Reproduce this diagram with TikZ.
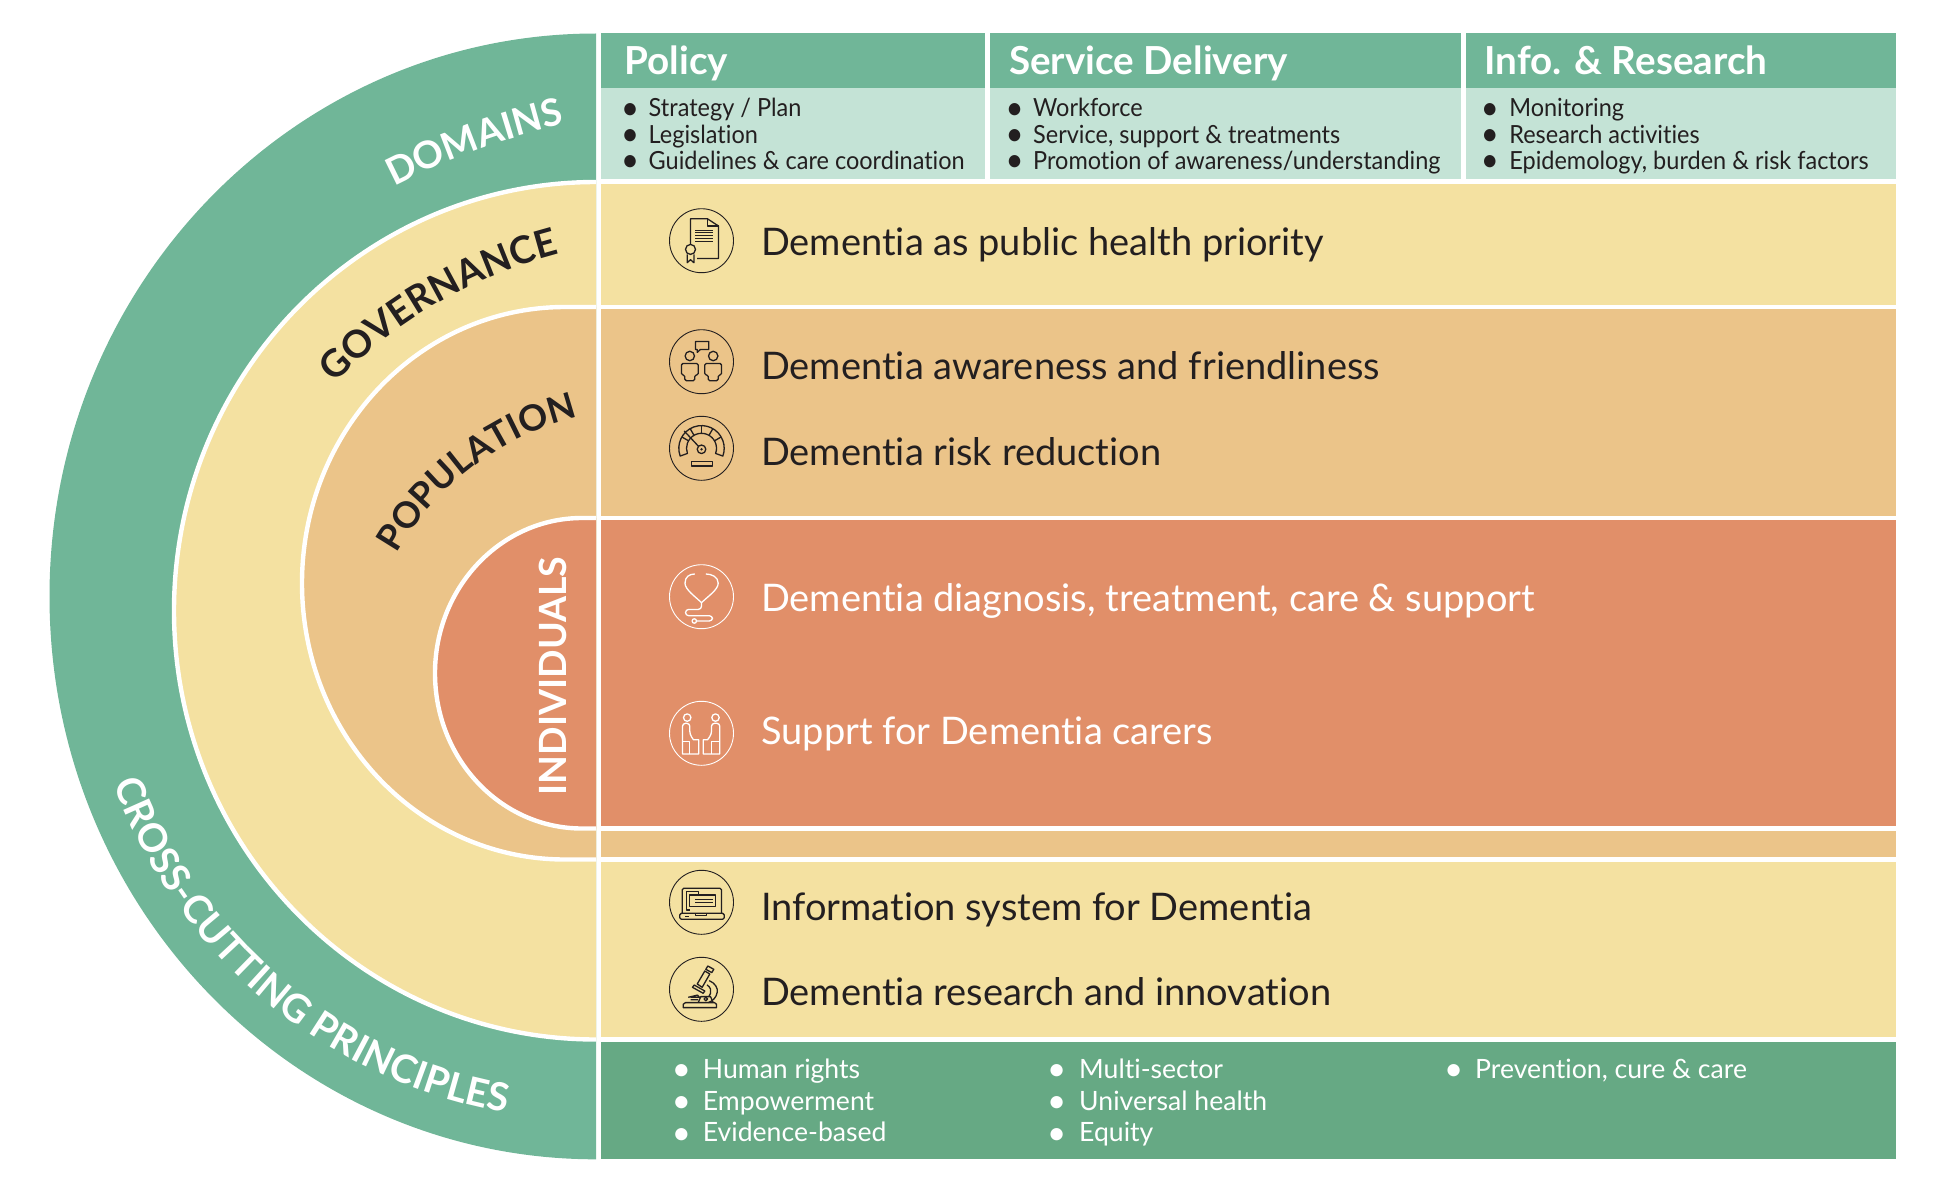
\documentclass[tikz,border=0pt]{standalone}
\usepackage{fontspec}
\usetikzlibrary{decorations.text}
\defaultfontfeatures{Ligatures=NoCommon}
\setmainfont{Lato}
\newfontfamily\bulletfont[FakeStretch=0.94]{Lato}
\newfontfamily\lowerfont{Lato}
\newfontfamily\bodyfont{Lato}
\definecolor{gmid}{HTML}{70B698}
\definecolor{glight}{HTML}{C4E3D6}
\definecolor{gdark}{HTML}{66A984}
\definecolor{yel}{HTML}{F4E1A1}
\definecolor{org}{HTML}{EBC489}
\definecolor{red1}{HTML}{E18F69}
\definecolor{ink}{HTML}{231F20}
\newcommand{\capwhite}{\fontsize{37.8}{40}\selectfont\bfseries\color{white}}
\newcommand{\capcross}{\fontsize{39}{40}\selectfont\bfseries\color{white}}
\newcommand{\capgov}{\fontsize{38}{40}\selectfont\bfseries\color{ink}}
\newcommand{\cappop}{\fontsize{36}{40}\selectfont\bfseries\color{ink}}
\newcommand{\bul}[2]{\makebox[#1pt][l]{\raisebox{-2.5pt}{\fontsize{33}{33}\selectfont\textbullet}}#2}
\tikzset{
  band/.style={draw=white,line width=4.4pt},
  headtxt/.style={anchor=base west,inner sep=0pt,text=white,font=\fontsize{38.6}{42}\selectfont\bfseries},
  bulltxt/.style={anchor=base west,inner sep=0pt,text=ink,font=\bulletfont\fontsize{25}{26}\selectfont},
  lowtxt/.style={anchor=base west,inner sep=0pt,text=white,font=\lowerfont\fontsize{26.6}{28}\selectfont},
  bodytxt/.style={anchor=base west,inner sep=0pt,font=\bodyfont\fontsize{38}{42}\selectfont,text=#1},
  ring/.style={circle,draw=#1,line width=.9pt,minimum size=64pt,inner sep=0pt},
  ico/.style={draw=#1,line width=1.3pt,line join=round},
  curved/.style={decorate,decoration={text along path,text align=center,text={#1}}}
}
\begin{document}
\begin{tikzpicture}[x=1pt,y=1pt]
\useasboundingbox (0,0) rectangle (1953,-1180);
% arcs
\fill[gmid] (596,-33.5) arc[start angle=90,end angle=270,x radius=546.5pt,y radius=562.9pt] -- cycle;
\path[fill=yel,band] (596,-182) arc[start angle=90,end angle=270,x radius=422pt,y radius=428.75pt];
\path[fill=org,band] (596,-307) -- (565,-307) arc[start angle=90,end angle=270,x radius=263pt,y radius=276.25pt] -- (596,-859.5);
\path[fill=red1,band] (596,-518) -- (582,-518) arc[start angle=90,end angle=270,x radius=147pt,y radius=155.25pt] -- (596,-828.5);
% right side panels
\fill[gmid] (601,-33.5) rectangle (984.5,-88);
\fill[gmid] (989.5,-33.5) rectangle (1460.5,-88);
\fill[gmid] (1465.5,-33.5) rectangle (1895.5,-88);
\fill[glight] (601,-88) rectangle (984.5,-179.3);
\fill[glight] (989.5,-88) rectangle (1460.5,-179.3);
\fill[glight] (1465.5,-88) rectangle (1895.5,-179.3);
\fill[yel] (601,-184) rectangle (1895.5,-305);
\fill[org] (601,-309.3) rectangle (1895.5,-515.7);
\fill[red1] (601,-520) rectangle (1895.5,-826);
\fill[org] (601,-831) rectangle (1895.5,-857.3);
\fill[yel] (601,-861.7) rectangle (1895.5,-1037.3);
\fill[gdark] (601,-1041.7) rectangle (1895.5,-1159.3);
\fill[white] (596.7,-30) rectangle (601,-1162);
% curved labels
\path[curved={|\capwhite|DOMAINS}] ([shift={(125:709pt)}]720,-816) arc[start angle=125,end angle=95,radius=709pt];
\path[curved={|\capgov|GOVERNANCE}] ([shift={(150:486pt)}]681,-724) arc[start angle=150,end angle=90,radius=486pt];
\path[curved={|\cappop|POPULATION}] ([shift={(157:287pt)}]646,-696) arc[start angle=157,end angle=97,radius=287pt];
\path[curved={|\capcross|CROSS-CUTTING PRINCIPLES}] ([shift={(190:508pt)}]592,-612) arc[start angle=190,end angle=270,radius=508pt];
\node[anchor=base,rotate=90,inner sep=0pt,text=white,font=\fontsize{37.5}{40}\selectfont\bfseries] (lblind) at (566,-676) {INDIVIDUALS};
% headers
\node[headtxt] (h1) at (624.5,-74.5) {Policy};
\node[headtxt] (h2) at (1009,-74.5) {Service Delivery};
\node[headtxt] (h3) at (1484.5,-74.5) {Info. \& Research};
% bullet lists
\node[bulltxt] (a1) at (621,-117) {\bul{27.5}{Strategy / Plan}};
\node[bulltxt] (a2) at (621,-143) {\bul{27.5}{Legislation}};
\node[bulltxt] (a3) at (621,-169) {\bul{27.5}{Guidelines \& care coordination}};
\node[bulltxt] (b1) at (1005.5,-117) {\bul{27.5}{Workforce}};
\node[bulltxt] (b2) at (1005.5,-143) {\bul{27.5}{Service, support \& treatments}};
\node[bulltxt] (b3) at (1005.5,-169) {\bul{27.5}{Promotion of awareness/understanding}};
\node[bulltxt] (c1) at (1480.6,-117) {\bul{28.5}{Monitoring}};
\node[bulltxt] (c2) at (1480.6,-143) {\bul{28.5}{Research activities}};
\node[bulltxt] (c3) at (1480.6,-169) {\bul{28.5}{Epidemology, burden \& risk factors}};
% body lines
\node[bodytxt=ink] (t1) at (761,-255) {Dementia as public health priority};
\node[bodytxt=ink] (t2) at (761,-379) {Dementia awareness and friendliness};
\node[bodytxt=ink] (t3) at (761,-465) {Dementia risk reduction};
\node[bodytxt=white] (t4) at (761,-611) {Dementia diagnosis, treatment, care \& support};
\node[bodytxt=white] (t5) at (761,-744) {Supprt for Dementia carers};
\node[bodytxt=ink] (t6) at (761,-920) {Information system for Dementia};
\node[bodytxt=ink] (t7) at (761,-1005.5) {Dementia research and innovation};
% lower bullets
\node[lowtxt] (l1) at (671.7,-1078) {\bul{31}{Human rights}};
\node[lowtxt] (l2) at (671.7,-1110) {\bul{31}{Empowerment}};
\node[lowtxt] (l3) at (671.7,-1141.5) {\bul{31}{Evidence-based}};
\node[lowtxt] (l4) at (1047,-1078) {\bul{32}{Multi-sector}};
\node[lowtxt] (l5) at (1047,-1110) {\bul{32}{Universal health}};
\node[lowtxt] (l6) at (1047,-1141.5) {\bul{32}{Equity}};
\node[lowtxt] (l7) at (1444,-1078) {\bul{31}{Prevention, cure \& care}};
% icon rings
\node[ring=ink] (r1) at (701.5,-240.7) {};
\node[ring=ink] (r2) at (701.5,-361.7) {};
\node[ring=ink] (r3) at (701.5,-448.3) {};
\node[ring=white] (r4) at (701.5,-596.7) {};
\node[ring=white] (r5) at (701.5,-733.3) {};
\node[ring=ink] (r6) at (701.5,-902.3) {};
\node[ring=ink] (r7) at (701.5,-989.3) {};
% document
\begin{scope}[shift={(r1.center)},ico=ink]
\draw (-11,-3.3) -- (-11,22) -- (5.8,22) -- (17,14.7) -- (17,-17.7) -- (-4.5,-17.7);
\draw (5.8,22) -- (5.8,14.7) -- (17,14.7);
\foreach \yy in {10.7,7.8,4.9,2,-1}{\draw[line width=1pt] (-6.3,\yy) -- (11.6,\yy);}
\draw (-11,-8.7) circle[radius=5pt];
\draw (-14.3,-13.7) -- (-14.3,-22) -- (-11,-19) -- (-7.6,-22) -- (-7.6,-13.7);
\end{scope}
% people
\begin{scope}[shift={(r2.center)},ico=ink]
\foreach \s in {-1,1}{
\draw (\s*11.7,5.7) circle[radius=4.7pt];
\draw[rounded corners=1.5pt] (\s*3.3,-13.3) -- (\s*3.3,-1.7) -- (\s*20,-1.7) -- (\s*20,-13.3) -- (\s*16.7,-13.3) -- (\s*16.7,-19) -- (\s*6.7,-19) -- (\s*6.7,-13.3) -- cycle;
}
\draw (-6,12.3) -- (-6,20.3) -- (7.3,20.3) -- (7.3,12.3) -- (-1,12.3) -- (-4.3,9.3) -- (-4.3,12.3) -- cycle;
\end{scope}
% gauge
\begin{scope}[shift={(r3.center)},ico=ink]
\draw (200:22.7pt) arc[start angle=200,end angle=-20,radius=22.7pt] -- (-20:15pt) arc[start angle=-20,end angle=200,radius=15pt] -- cycle;
\foreach \a in {30,60,90,120,150}{\draw (\a:15pt) -- (\a:22.7pt);}
\draw (0,-1) circle[radius=4.3pt];
\fill[ink] (0,-1) circle[radius=1.3pt];
\draw (-3,2) -- (-17.3,17.3);
\draw (-10,-13) rectangle (10.7,-17.7);
\end{scope}
% stethoscope
\begin{scope}[shift={(r4.center)},ico=white]
\draw (-6.7,22.7) .. controls (-12,22.7) and (-16.5,20) .. (-16.5,13.5) .. controls (-16.5,7) and (-6,0) .. (0,-6) .. controls (6,0) and (16.7,7) .. (16.7,13.5) .. controls (16.7,20) and (10,22.7) .. (4.3,22.7);
\draw[rounded corners=3.2pt] (0,-6) -- (0,-12.7) -- (-16,-12.7) -- (-16,-19) -- (11,-19) -- (11,-24.3) -- (-5,-24.3);
\draw (-7.2,-24.3) circle[radius=2.2pt];
\end{scope}
% carers
\begin{scope}[shift={(r5.center)},ico=white]
\draw (-14.3,15.7) circle[radius=3.7pt];
\draw (14,15.7) circle[radius=3.7pt];
\draw (-19,-20.7) [rounded corners=3pt] -- (-19,10) -- (-11.7,10) -- (-11.7,-1) [sharp corners] -- (-8,-6.5) -- (-2.7,-6.5) -- (-2.7,-20.7) -- cycle;
\draw (-19,-8.3) -- (-11.7,-8.3) -- (-11.7,-20.7);
\draw (18.3,-20.7) [rounded corners=3pt] -- (18.3,10) -- (10,10) -- (10,-1) [sharp corners] -- (6,-6.5) -- (1.7,-6.5) -- (1.7,-20.7) -- cycle;
\draw (18.3,-8.3) -- (10,-8.3) -- (10,-20.7);
\end{scope}
% laptop
\begin{scope}[shift={(r6.center)},ico=ink]
\draw[rounded corners=1.5pt] (-19.3,-11) -- (-19.3,14) -- (20,14) -- (20,-11);
\draw[rounded corners=1.5pt] (-21.7,-11) rectangle (22.7,-17);
\draw (-6,-11) -- (-6,-13.5) -- (5,-13.5) -- (5,-11);
\draw (-16.5,-14.5) -- (-13,-14.5);
\draw (-3,7.3) -- (-3,10.7) -- (-15,10.7) -- (-15,-7.7) -- (-11.7,-7.7);
\draw (-11.7,-4.3) rectangle (14.3,7.3);
\draw[line width=1pt] (-6.5,3) -- (11,3) (-6.5,0) -- (11,0);
\end{scope}
% microscope
\begin{scope}[shift={(r7.center)},ico=ink]
\draw (-18.3,-18.3) -- (15,-18.3) -- (15,-15) -- (13,-13.3) -- (-16,-13.3) -- (-18.3,-15) -- cycle;
\draw (-4.3,5.3) -- (3.3,18.3) -- (8.3,15.3) -- (.7,2) -- cycle;
\draw (4.3,20) -- (6.3,23.3) -- (12.3,20) -- (10.3,16.7) -- cycle;
\draw (-9,2) -- (-7.3,4.3) -- (3.3,-1.7) -- (1.7,-4) -- cycle;
\draw (7.7,8.7) .. controls (14,6) and (16.5,1) .. (15.7,-3) .. controls (15,-8) and (11,-12) .. (6.7,-13.3);
\draw (5.5,4.5) .. controls (9,2) and (10,-1) .. (9,-4) .. controls (8.5,-5.5) and (8,-6) .. (7.5,-7);
\draw (-13.3,-8) -- (-4,-5.8) -- (-2,-8) -- (-11,-8) (-11,-10.5) -- (-3.3,-10.5);
\draw (-3.3,-13.3) -- (-.7,-7.3) -- (9,-7.3) -- (11.7,-13.3);
\draw (4.3,-9.7) circle[radius=1.8pt];
\end{scope}
\end{tikzpicture}
\end{document}
